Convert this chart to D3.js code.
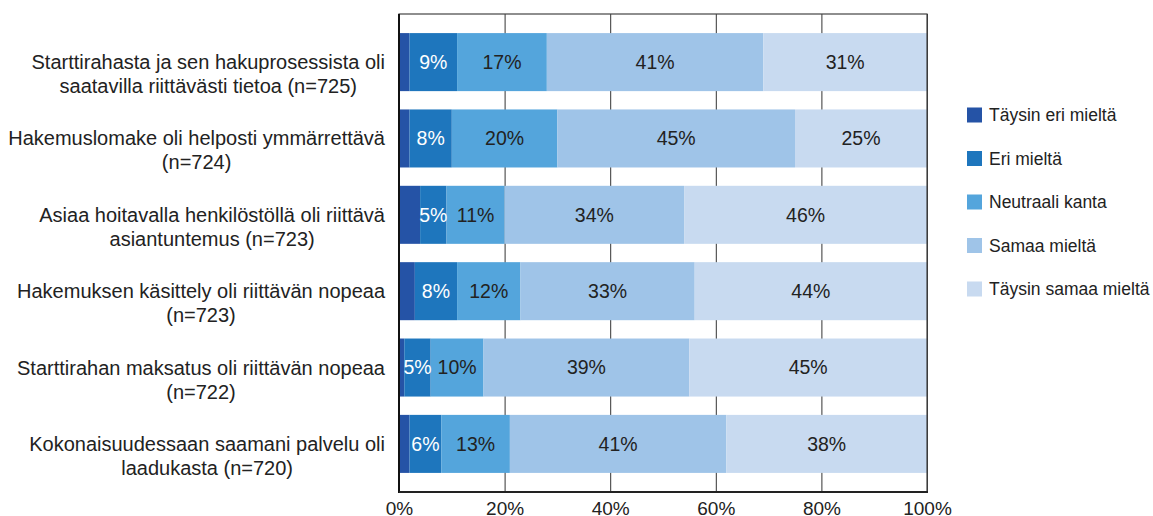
<!DOCTYPE html>
<html lang="fi">
<head>
<meta charset="UTF-8">
<title>Starttiraha – tyytyväisyys</title>
<script src="https://d3js.org/d3.v7.min.js"></script>
<style>
  html, body { margin: 0; padding: 0; background: #fff; overflow: hidden; }
  svg { display: block; font-family: "Liberation Sans", Arial, sans-serif; }
</style>
</head>
<body>
<div id="chart"></div>
<script>
// categories, two lines each
const categories = [
  ["Starttirahasta ja sen hakuprosessista oli", "saatavilla riittävästi tietoa (n=725)"],
  ["Hakemuslomake oli helposti ymmärrettävä", "(n=724)"],
  ["Asiaa hoitavalla henkilöstöllä oli riittävä", "asiantuntemus (n=723)"],
  ["Hakemuksen käsittely oli riittävän nopeaa", "(n=723)"],
  ["Starttirahan maksatus oli riittävän nopeaa", "(n=722)"],
  ["Kokonaisuudessaan saamani palvelu oli", "laadukasta (n=720)"]
]
const seriesNames = ["Täysin eri mieltä", "Eri mieltä", "Neutraali kanta", "Samaa mieltä", "Täysin samaa mieltä"]
const taysinEri   = [2, 2, 4, 3, 1, 2]
const eri         = [9, 8, 5, 8, 5, 6]
const neutraali   = [17, 20, 11, 12, 10, 13]
const samaa       = [41, 45, 34, 33, 39, 41]
const taysinSamaa = [31, 25, 46, 44, 45, 38]
const ticks = [0, 20, 40, 60, 80, 100]

const seriesValues = [taysinEri, eri, neutraali, samaa, taysinSamaa]
const colors = ["#2553a6", "#1e76bd", "#54a5dc", "#9fc4e8", "#c8daf0"]
const labelColors = [null, "#ffffff", "#222222", "#222222", "#222222"]

const width = 1153, height = 516
const plot = { left: 399, right: 927, top: 14, bottom: 492 }

const svg = d3.select('#chart').append('svg').attr('width', width).attr('height', height)

const x = d3.scaleLinear().domain([0, 100]).range([plot.left, plot.right])
const y = d3.scaleBand().domain(d3.range(categories.length))
  .range([plot.top, plot.bottom]).paddingInner(0.24).paddingOuter(0.25)

// gridlines + tick labels
const axis = svg.append('g').attr('transform', `translate(0,${plot.bottom})`)
  .call(d3.axisBottom(x).tickValues(ticks).tickFormat(d => d + '%')
    .tickSize(-(plot.bottom - plot.top)).tickPadding(9.5))
axis.select('.domain').remove()
axis.selectAll('line').attr('stroke', '#333').attr('stroke-width', 1)
axis.selectAll('text').attr('font-size', 19).attr('fill', '#222')
  .attr('font-family', '"Liberation Sans", Arial, sans-serif')

// stacked bars
const rows = categories.map((c, i) => {
  const r = { i }
  seriesNames.forEach((s, k) => r[s] = seriesValues[k][i])
  return r
})
const stacked = d3.stack().keys(seriesNames)(rows)

const layers = svg.selectAll('.layer').data(stacked).enter().append('g')
  .attr('class', 'layer').attr('fill', (d, k) => colors[k])
layers.selectAll('rect').data(d => d).enter().append('rect')
  .attr('x', d => x(d[0]))
  .attr('y', d => y(d.data.i))
  .attr('width', d => x(d[1]) - x(d[0]))
  .attr('height', y.bandwidth())

// value labels (first series is not labelled)
stacked.forEach((layer, k) => {
  if (!labelColors[k]) return
  svg.append('g').selectAll('text').data(layer).enter().append('text')
    .attr('x', d => (x(d[0]) + x(d[1])) / 2)
    .attr('y', d => y(d.data.i) + y.bandwidth() / 2)
    .attr('dy', '0.35em')
    .attr('text-anchor', 'middle')
    .attr('font-size', 19.5)
    .attr('fill', labelColors[k])
    .text(d => (d[1] - d[0]) + '%')
})

// frame
svg.append('rect')
  .attr('x', plot.left).attr('y', plot.top)
  .attr('width', plot.right - plot.left).attr('height', plot.bottom - plot.top)
  .attr('fill', 'none').attr('stroke', '#444').attr('stroke-width', 1.2)
svg.append('line').attr('x1', plot.left).attr('x2', plot.left)
  .attr('y1', plot.top).attr('y2', plot.bottom + 1)
  .attr('stroke', '#111').attr('stroke-width', 2)
svg.append('line').attr('x1', plot.left).attr('x2', plot.right + 1)
  .attr('y1', plot.bottom).attr('y2', plot.bottom)
  .attr('stroke', '#222').attr('stroke-width', 2)

// category labels: block right-aligned, lines centred
const labelRight = 385
categories.forEach((lines, i) => {
  const g = svg.append('g')
  const cy = y(i) + y.bandwidth() / 2
  const texts = lines.map((t, j) => g.append('text')
    .attr('y', cy + j * 24).attr('dy', '0.35em')
    .attr('text-anchor', 'middle').attr('font-size', 20).attr('fill', '#222')
    .text(t))
  const maxW = d3.max(texts, t => t.node().getComputedTextLength())
  texts.forEach(t => t.attr('x', labelRight - maxW / 2))
})

// legend
const legend = svg.append('g').attr('transform', 'translate(967,115)')
const item = legend.selectAll('g').data(seriesNames).enter().append('g')
  .attr('transform', (d, k) => `translate(0,${k * 43.5})`)
item.append('rect').attr('x', 0).attr('y', -7.5).attr('width', 15).attr('height', 15)
  .attr('fill', (d, k) => colors[k])
item.append('text').attr('x', 22).attr('dy', '0.35em')
  .attr('font-size', 17.5).attr('fill', '#222').text(d => d)
</script>
</body>
</html>
